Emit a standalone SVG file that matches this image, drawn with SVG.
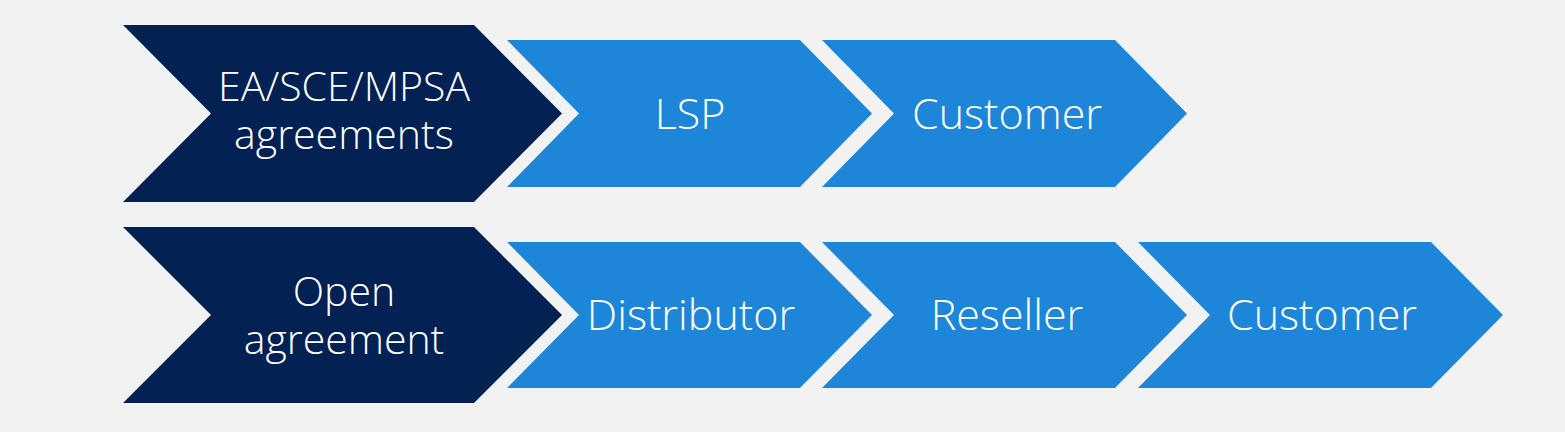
<svg xmlns="http://www.w3.org/2000/svg" width="1565" height="432" viewBox="0 0 1565 432">
<style>
.bg{fill:#f2f2f2}
.dark{fill:#032152}
.blue{fill:#1d86d9}
.t{font-family:"Open Sans","Noto Sans","Liberation Sans",sans-serif;font-weight:300;font-size:41px;fill:#ffffff;text-anchor:middle}
.tb{font-size:43px}
</style>
<rect class="bg" x="0" y="0" width="1565" height="432"/>
<g id="connectors"/>
<g id="node-ea">
<polygon class="dark" points="123,25 474,25 562,113.5 474,202 123,202 211,113.5"/>
<text class="t" x="344" y="101">EA/SCE/MPSA</text>
<text class="t" x="344" y="149">agreements</text>
</g>
<g id="node-lsp">
<polygon class="blue" points="507,40 800,40 872,113.5 800,187 507,187 579,113.5"/>
<text class="t tb" x="690" y="129">LSP</text>
</g>
<g id="node-customer1">
<polygon class="blue" points="822,40 1115,40 1187,113.5 1115,187 822,187 894,113.5"/>
<text class="t tb" x="1007" y="129">Customer</text>
</g>
<g id="node-open">
<polygon class="dark" points="123,227 474,227 562,315 474,403 123,403 211,315"/>
<text class="t" x="344" y="306">Open</text>
<text class="t" x="344" y="354">agreement</text>
</g>
<g id="node-distributor">
<polygon class="blue" points="507,242 800,242 872,315 800,388 507,388 579,315"/>
<text class="t tb" x="691" y="330">Distributor</text>
</g>
<g id="node-reseller">
<polygon class="blue" points="822,242 1115,242 1187,315 1115,388 822,388 894,315"/>
<text class="t tb" x="1007" y="330">Reseller</text>
</g>
<g id="node-customer2">
<polygon class="blue" points="1138,242 1431,242 1503,315 1431,388 1138,388 1210,315"/>
<text class="t tb" x="1322" y="330">Customer</text>
</g>
</svg>
